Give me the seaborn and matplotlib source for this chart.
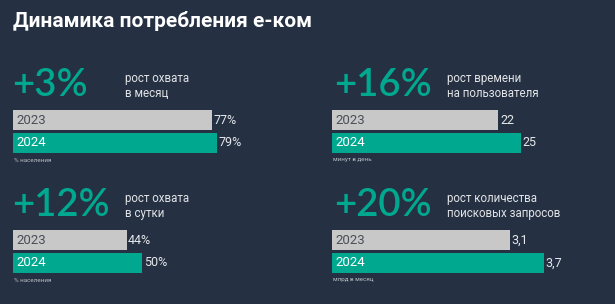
import matplotlib
matplotlib.use("Agg")
import matplotlib.pyplot as plt
import seaborn as sns
import pandas as pd

# Data
years = ["2023", "2024"]
reach_month = [77, 79]
time_per_user = [22, 25]
reach_day = [44, 50]
search_queries = [3.1, 3.7]

value_labels = [["77%", "79%"], ["22", "25"], ["44%", "50%"], ["3,1", "3,7"]]
growth = ["+3%", "+16%", "+12%", "+20%"]
captions = ["рост охвата\nв месяц", "рост времени\nна пользователя",
            "рост охвата\nв сутки", "рост количества\nпоисковых запросов"]
units = ["% населения", "минут в день", "% населения", "млрд в месяц"]
title = "Динамика потребления e-ком"

# Style
bg = "#253142"
teal = "#00a88f"
gray = "#c8c8c8"
W, H = 615, 304

sns.set_theme(style="white")
plt.rcParams["font.family"] = ["Roboto", "DejaVu Sans"]

fig = plt.figure(figsize=(W / 100, H / 100), dpi=100, facecolor=bg)

def fx(x):
    return x / W

def fy(y):
    return 1 - y / H

fig.text(fx(13), fy(21), title, color="white", fontsize=15, fontweight="bold",
         ha="left", va="center")

series = [reach_month, time_per_user, reach_day, search_queries]
xmax = [100, 34.1, 100, 4.5]
# panel anchors: (bar left x, bar top y, big number x, caption x)
anchors = [(13, 110, 12, 125), (332, 110, 334, 447),
           (13, 230, 12, 125), (332, 230, 334, 447)]

for i, vals in enumerate(series):
    bx, by, nx, cx = anchors[i]
    # big number and caption
    fig.text(fx(nx), fy(by - 25), growth[i], color=teal, fontsize=27.5,
             family=["Lato", "DejaVu Sans"], fontweight="semibold",
             ha="left", va="center")
    fig.text(fx(cx), fy(by - 24), captions[i], color="#e2e4e8", fontsize=8.3,
             ha="left", va="center", linespacing=1.15)

    ax = fig.add_axes([fx(bx), fy(by + 43), fx(258), 43 / H])
    df = pd.DataFrame({"year": years, "value": vals})
    sns.barplot(data=df, x="value", y="year", hue="year", palette=[gray, teal],
                orient="h", width=0.87, legend=False, ax=ax, saturation=1,
                linewidth=0)
    ax.set_xlim(0, xmax[i])
    ax.set_ylim(1.435, -0.435)
    ax.axis("off")
    ax.set_facecolor(bg)

    for j, cont in enumerate(ax.containers):
        ax.bar_label(cont, labels=[value_labels[i][j]], padding=1.2,
                     color="#e6e8ec", fontsize=9)
        ax.annotate(years[j], xy=(0, j), xytext=(2.2, 0), textcoords="offset points",
                    ha="left", va="center", fontsize=9.5,
                    color="#4a4f57" if j == 0 else "white")

    fig.text(fx(bx + 1), fy(by + 50), units[i], color="#b8bcc4", fontsize=4.5,
             ha="left", va="center")

fig.savefig("out.png", dpi=100, facecolor=bg)
